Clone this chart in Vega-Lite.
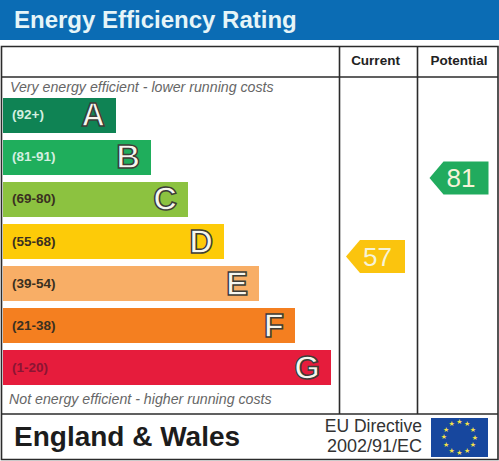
{
  "$schema": "https://vega.github.io/schema/vega-lite/v6.json",
  "width": 499,
  "height": 461,
  "padding": 0,
  "autosize": {"type": "fit", "contains": "padding"},
  "background": "white",
  "view": {"stroke": null},
  "config": {"text": {"font": "Liberation Sans"}},
  "datasets": {
    "bands": [
      {"band": "A", "range": "(92+)", "reach": 116},
      {"band": "B", "range": "(81-91)", "reach": 151},
      {"band": "C", "range": "(69-80)", "reach": 188},
      {"band": "D", "range": "(55-68)", "reach": 224},
      {"band": "E", "range": "(39-54)", "reach": 259},
      {"band": "F", "range": "(21-38)", "reach": 295},
      {"band": "G", "range": "(1-20)", "reach": 331}
    ],
    "ratings": [
      {"column": "Current", "score": 57},
      {"column": "Potential", "score": 81}
    ],
    "stars": [
      {"hour": 0}, {"hour": 1}, {"hour": 2}, {"hour": 3}, {"hour": 4}, {"hour": 5},
      {"hour": 6}, {"hour": 7}, {"hour": 8}, {"hour": 9}, {"hour": 10}, {"hour": 11}
    ]
  },
  "resolve": {"scale": {"x": "independent", "y": "independent", "color": "independent"}},
  "layer": [
    {
      "data": {"values": [{}]},
      "encoding": {
        "x": {"datum": 0, "type": "quantitative", "axis": null, "scale": {"domain": [0, 499], "range": [0, 499]}},
        "y": {"datum": 0, "type": "quantitative", "axis": null, "scale": {"domain": [0, 461], "range": [0, 461]}}
      },
      "layer": [
        {
          "mark": {"type": "rect", "color": "#0b6cb4"},
          "encoding": {"x": {"datum": 0, "type": "quantitative"}, "x2": {"datum": 499}, "y": {"datum": 0, "type": "quantitative"}, "y2": {"datum": 40}}
        },
        {
          "mark": {"type": "rect", "fill": null, "stroke": "#2b2b2b", "strokeWidth": 1.6},
          "encoding": {"x": {"datum": 1.5, "type": "quantitative"}, "x2": {"datum": 498}, "y": {"datum": 46.5, "type": "quantitative"}, "y2": {"datum": 459.5}}
        },
        {
          "mark": {"type": "rule", "color": "#2b2b2b", "strokeWidth": 1.6},
          "encoding": {"x": {"datum": 1.5, "type": "quantitative"}, "x2": {"datum": 498}, "y": {"datum": 77, "type": "quantitative"}}
        },
        {
          "mark": {"type": "rule", "color": "#2b2b2b", "strokeWidth": 1.6},
          "encoding": {"x": {"datum": 1.5, "type": "quantitative"}, "x2": {"datum": 498}, "y": {"datum": 414, "type": "quantitative"}}
        },
        {
          "mark": {"type": "rule", "color": "#2b2b2b", "strokeWidth": 1.6},
          "encoding": {"x": {"datum": 339.5, "type": "quantitative"}, "y": {"datum": 46.5, "type": "quantitative"}, "y2": {"datum": 414}}
        },
        {
          "mark": {"type": "rule", "color": "#2b2b2b", "strokeWidth": 1.6},
          "encoding": {"x": {"datum": 417.5, "type": "quantitative"}, "y": {"datum": 46.5, "type": "quantitative"}, "y2": {"datum": 414}}
        },
        {
          "mark": {"type": "text", "text": "Energy Efficiency Rating", "align": "left", "fontSize": 24, "fontWeight": "bold", "color": "#e6f5f8"},
          "encoding": {"x": {"datum": 14, "type": "quantitative"}, "y": {"datum": 21, "type": "quantitative"}}
        },
        {
          "mark": {"type": "text", "text": "Very energy efficient - lower running costs", "align": "left", "fontSize": 14.2, "fontStyle": "italic", "color": "#666666"},
          "encoding": {"x": {"datum": 10, "type": "quantitative"}, "y": {"datum": 88, "type": "quantitative"}}
        },
        {
          "mark": {"type": "text", "text": "Not energy efficient - higher running costs", "align": "left", "fontSize": 14.2, "fontStyle": "italic", "color": "#666666"},
          "encoding": {"x": {"datum": 9, "type": "quantitative"}, "y": {"datum": 400, "type": "quantitative"}}
        },
        {
          "mark": {"type": "text", "text": "England & Wales", "align": "left", "fontSize": 28, "fontWeight": "bold", "color": "#1c1c1c"},
          "encoding": {"x": {"datum": 14, "type": "quantitative"}, "y": {"datum": 438, "type": "quantitative"}}
        },
        {
          "mark": {"type": "text", "text": "EU Directive", "align": "right", "fontSize": 17.5, "color": "#333333"},
          "encoding": {"x": {"datum": 422, "type": "quantitative"}, "y": {"datum": 427, "type": "quantitative"}}
        },
        {
          "mark": {"type": "text", "text": "2002/91/EC", "align": "right", "fontSize": 18, "color": "#333333"},
          "encoding": {"x": {"datum": 422, "type": "quantitative"}, "y": {"datum": 447, "type": "quantitative"}}
        },
        {
          "mark": {"type": "rect", "color": "#17479e"},
          "encoding": {"x": {"datum": 431, "type": "quantitative"}, "x2": {"datum": 488}, "y": {"datum": 418, "type": "quantitative"}, "y2": {"datum": 457}}
        },
        {
          "data": {"name": "stars"},
          "mark": {"type": "text", "text": "★", "font": "DejaVu Sans", "fontSize": 7, "color": "#f4e04a"},
          "encoding": {
            "x": {"datum": 459.5, "type": "quantitative"},
            "y": {"datum": 437.5, "type": "quantitative"},
            "theta": {"field": "hour", "type": "quantitative", "scale": {"domain": [0, 12], "range": [0, 6.2832]}},
            "radius": {"value": 15.5}
          }
        }
      ]
    },
    {
      "data": {"name": "bands"},
      "encoding": {
        "y": {"field": "band", "type": "nominal", "axis": null, "scale": {"domain": ["A", "B", "C", "D", "E", "F", "G"], "range": [98, 385], "paddingInner": 0.1667, "paddingOuter": 0}},
        "x": {"field": "reach", "type": "quantitative", "axis": null, "scale": {"domain": [0, 499], "range": [0, 499]}}
      },
      "layer": [
        {
          "mark": {"type": "bar"},
          "encoding": {
            "x2": {"datum": 3},
            "color": {"field": "band", "type": "nominal", "legend": null, "scale": {"domain": ["A", "B", "C", "D", "E", "F", "G"], "range": ["#0f8354", "#1fae5c", "#8cc240", "#fdcb08", "#f8ae66", "#f47f20", "#e61c3c"]}}
          }
        },
        {
          "mark": {"type": "text", "align": "left", "fontSize": 13.5, "fontWeight": "bold"},
          "encoding": {
            "x": {"datum": 12, "type": "quantitative"},
            "text": {"field": "range"},
            "color": {"condition": [{"test": "datum.band === 'A' || datum.band === 'B'", "value": "#d4efe0"}, {"test": "datum.band === 'G'", "value": "#8a1533"}], "value": "#3a3020"}
          }
        },
        {
          "mark": {"type": "text", "align": "right", "dx": -11, "dy": 1, "fontSize": 33, "fontWeight": "bold", "fill": "#f7f7ef", "stroke": "#3d3d38", "strokeWidth": 1.5, "fillOpacity": 1, "strokeOpacity": 1},
          "encoding": {"text": {"field": "band"}}
        }
      ]
    },
    {
      "data": {"name": "ratings"},
      "encoding": {
        "x": {"field": "column", "type": "nominal", "axis": null, "scale": {"type": "point", "domain": ["Current", "Potential"], "range": [375.5, 459], "padding": 0}},
        "y": {"field": "score", "type": "quantitative", "axis": null, "scale": {"domain": [57, 81], "range": [256.5, 178], "zero": false}}
      },
      "layer": [
        {
          "mark": {"type": "text", "fontSize": 13.5, "fontWeight": "bold", "color": "#222222"},
          "encoding": {"y": {"value": 61}, "text": {"field": "column"}, "xOffset": {"value": 0}}
        },
        {
          "mark": {"type": "point", "filled": true, "opacity": 1, "size": 3481, "shape": "M-1,0L-0.525,-0.56L1,-0.56L1,0.56L-0.525,0.56Z"},
          "encoding": {
            "color": {"field": "column", "type": "nominal", "legend": null, "scale": {"domain": ["Current", "Potential"], "range": ["#fbc40e", "#21ab5e"]}}
          }
        },
        {
          "mark": {"type": "text", "fontSize": 26, "dx": 2, "dy": 1, "color": "#f6f3d8"},
          "encoding": {"text": {"field": "score", "type": "quantitative"}}
        }
      ]
    }
  ]
}
